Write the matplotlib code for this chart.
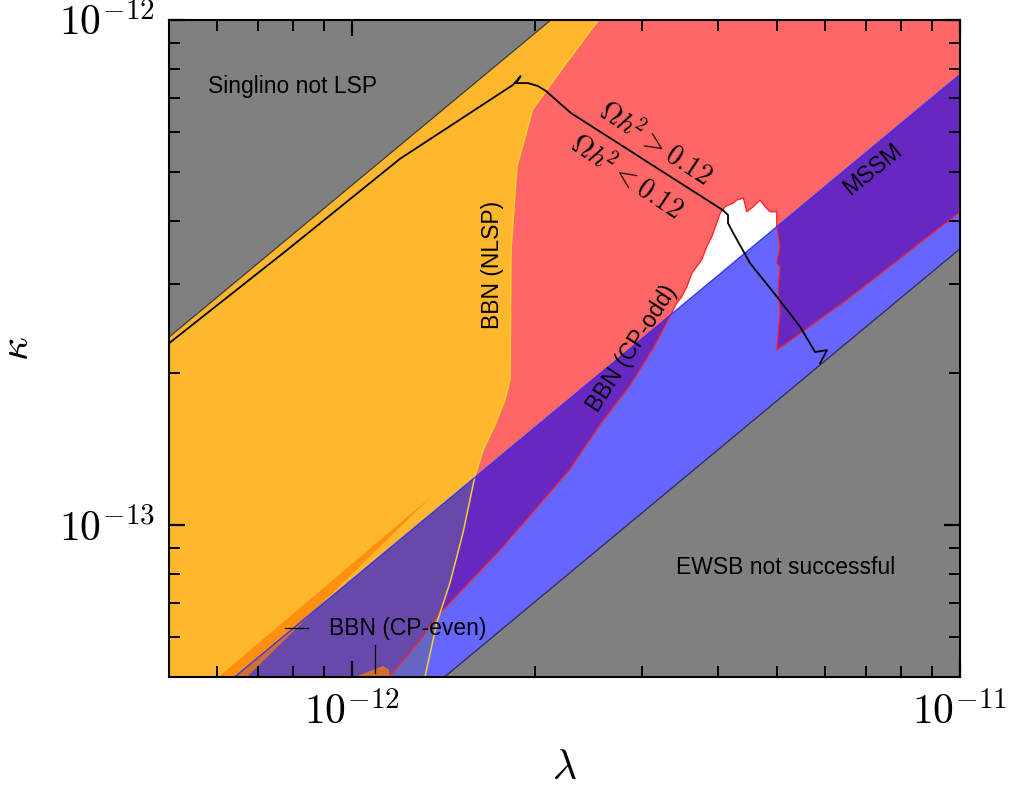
import numpy as np
import matplotlib
matplotlib.use("Agg")
import matplotlib.pyplot as plt
from matplotlib.ticker import FuncFormatter, LogLocator, NullFormatter

plt.rcParams["mathtext.fontset"] = "cm"
plt.rcParams["font.family"] = ["Liberation Sans", "DejaVu Sans"]

# ---- plot range ----------------------------------------------------------
lam_lim = [5.0e-13, 1.0e-11]
kap_lim = [5.0e-14, 1.0e-12]

# ---- "Singlino not LSP" boundary (excluded above) -------------------------
lsp_lam = [5.0e-13, 2.123e-12]
lsp_kap = [2.355e-13, 1.0e-12]

# ---- EWSB boundary (excluded below) ---------------------------------------
ewsb_lam = [1.419e-12, 1.0e-11]
ewsb_kap = [5.0e-14, 3.524e-13]

# ---- MSSM-like band, upper edge ------------------------------------------
mssm_lam = [6.41e-13, 1.0e-11]
mssm_kap = [5.0e-14, 7.80e-13]

# ---- BBN (NLSP) boundary, region to the left is excluded ------------------
nlsp_lam = [2.544e-12, 2.228e-12, 1.980e-12, 1.867e-12, 1.826e-12, 1.819e-12,
            1.785e-12, 1.719e-12, 1.644e-12, 1.593e-12, 1.522e-12, 1.449e-12,
            1.378e-12, 1.318e-12]
nlsp_kap = [1.0e-12, 8.08e-13, 6.64e-13, 5.12e-13, 3.50e-13, 1.94e-13,
            1.77e-13, 1.58e-13, 1.41e-13, 1.25e-13, 9.64e-14, 7.68e-14,
            6.39e-14, 5.0e-14]

# ---- BBN (CP-odd) boundary, region above/left is excluded ------------------
odd_lam = [1.150e-12, 1.294e-12, 1.378e-12, 1.752e-12, 2.038e-12, 2.283e-12,
           2.558e-12, 2.866e-12, 3.150e-12, 3.420e-12, 3.486e-12, 3.553e-12,
           3.621e-12, 3.690e-12, 3.760e-12, 3.832e-12, 3.905e-12, 3.980e-12,
           4.030e-12, 4.107e-12, 4.238e-12, 4.293e-12, 4.402e-12, 4.459e-12,
           4.571e-12, 4.689e-12, 4.779e-12, 4.870e-12, 4.995e-12, 4.995e-12,
           5.057e-12, 4.995e-12, 5.057e-12, 5.020e-12, 5.057e-12, 4.995e-12,
           6.512e-12, 1.0e-11]
odd_kap = [5.0e-14, 5.92e-14, 6.58e-14, 8.92e-14, 1.10e-13, 1.29e-13,
           1.58e-13, 1.89e-13, 2.27e-13, 2.75e-13, 2.83e-13, 2.96e-13,
           3.15e-13, 3.25e-13, 3.35e-13, 3.56e-13, 3.72e-13, 3.96e-13,
           4.14e-13, 4.27e-13, 4.34e-13, 4.40e-13, 4.44e-13, 4.17e-13,
           4.27e-13, 4.40e-13, 4.27e-13, 4.17e-13, 4.17e-13, 3.90e-13,
           3.56e-13, 3.30e-13, 3.25e-13, 2.92e-13, 2.63e-13, 2.22e-13,
           2.79e-13, 4.17e-13]

# ---- BBN (CP-even) excluded patches ----------------------------------------
even_lam = [6.03e-13, 1.352e-12, 6.71e-13]
even_kap = [5.0e-14, 1.14e-13, 5.0e-14]
even2_lam = [1.011e-12, 1.125e-12, 1.150e-12, 1.155e-12]
even2_kap = [5.0e-14, 5.26e-14, 5.17e-14, 5.0e-14]

# ---- relic density contour Omega h^2 = 0.12 -------------------------------
relic_lam = [5.0e-13, 7.81e-13, 1.199e-12, 1.840e-12, 1.893e-12, 1.861e-12,
             1.947e-12, 2.022e-12, 2.085e-12, 2.292e-12, 4.075e-12, 4.153e-12,
             4.153e-12, 4.233e-12, 4.514e-12, 5.0e-12, 5.456e-12, 5.775e-12,
             6.043e-12, 5.886e-12]
relic_kap = [2.29e-13, 3.50e-13, 5.31e-13, 7.44e-13, 7.74e-13, 7.50e-13,
             7.50e-13, 7.40e-13, 7.23e-13, 6.54e-13, 4.20e-13, 4.11e-13,
             3.96e-13, 3.79e-13, 3.30e-13, 2.83e-13, 2.47e-13, 2.20e-13,
             2.22e-13, 2.09e-13]

# ---- annotation pointers for BBN (CP-even) --------------------------------
even_tick_lam = [7.76e-13, 8.47e-13]
even_tick_kap = [6.24e-14, 6.24e-14]
even_stem_lam = [1.091e-12, 1.091e-12]
even_stem_kap = [5.79e-14, 5.09e-14]

# ---- figure -------------------------------------------------------------
fig = plt.figure(figsize=(10.11, 7.87), dpi=100)
ax = fig.add_axes([0.1672, 0.1398, 0.7824, 0.8348])
ax.set_xscale("log")
ax.set_yscale("log")
ax.set_xlim(lam_lim)
ax.set_ylim(kap_lim)

lo_l, hi_l = lam_lim
lo_k, hi_k = kap_lim

# excluded by BBN (CP-odd) / relic region (red)
ax.fill(list(odd_lam) + [hi_l, lo_l, lo_l],
        list(odd_kap) + [hi_k, hi_k, lo_k],
        color="#ff0000", alpha=0.6, lw=0, zorder=1)

# BBN (NLSP)
ax.fill(list(nlsp_lam) + [lo_l, lo_l],
        list(nlsp_kap) + [lo_k, hi_k],
        color="#ffff00", alpha=0.54, lw=0, zorder=2)

# MSSM-like band
ax.fill(list(mssm_lam) + [hi_l], list(mssm_kap) + [lo_k],
        color="#0000ff", alpha=0.6, lw=0, zorder=3)

# BBN (CP-even)
ax.fill(even_lam, even_kap, color="#ff8000", alpha=0.7, lw=0, zorder=4)
ax.fill(even2_lam, even2_kap, color="#ff8000", alpha=0.7, lw=0, zorder=4)

# boundary lines
ax.plot(odd_lam, odd_kap, color="#ff2020", lw=0.9, zorder=5)
ax.plot(nlsp_lam, nlsp_kap, color="#f2cf2a", lw=1.1, zorder=5)
ax.plot(mssm_lam, mssm_kap, color="#3030ff", lw=0.9, zorder=5)

# theoretically excluded regions (grey)
ax.fill(list(lsp_lam) + [lo_l], list(lsp_kap) + [hi_k],
        color="#808080", lw=0, zorder=6)
ax.plot(lsp_lam, lsp_kap, color="#3a3a3a", lw=0.9, zorder=6)
ax.fill(list(ewsb_lam) + [hi_l], list(ewsb_kap) + [lo_k],
        color="#808080", lw=0, zorder=6)
ax.plot(ewsb_lam, ewsb_kap, color="#2c2c5c", lw=0.9, zorder=6)

# relic density contour
ax.plot(relic_lam, relic_kap, color="black", lw=1.3, zorder=7)

# CP-even pointers
ax.plot(even_tick_lam, even_tick_kap, color="black", lw=0.9, zorder=7)
ax.plot(even_stem_lam, even_stem_kap, color="black", lw=0.9, zorder=7)

# ---- labels -------------------------------------------------------------
fs = 16.5
ax.text(5.80e-13, 7.37e-13, "Singlino not LSP", fontsize=fs,
        ha="left", va="center", zorder=8)
ax.text(5.173e-12, 8.22e-14, "EWSB not successful", fontsize=fs,
        ha="center", va="center", zorder=8)
ax.text(1.699e-12, 3.27e-13, "BBN (NLSP)", fontsize=fs, rotation=90,
        ha="center", va="center", zorder=8)
ax.text(7.193e-12, 5.05e-13, "MSSM", fontsize=fs, rotation=39,
        ha="center", va="center", zorder=8)
ax.text(2.888e-12, 2.24e-13, "BBN (CP-odd)", fontsize=fs, rotation=57,
        ha="center", va="center", zorder=8)
ax.text(9.17e-13, 6.24e-14, "BBN (CP-even)", fontsize=fs,
        ha="left", va="center", zorder=8)
ax.text(3.150e-12, 5.68e-13, r"$\Omega h^{\!2} > 0.12$", fontsize=20,
        rotation=-33.5, ha="center", va="center", zorder=8)
ax.text(2.834e-12, 4.89e-13, r"$\Omega h^{\!2} < 0.12$", fontsize=20,
        rotation=-34, ha="center", va="center", zorder=8)

# ---- axes styling --------------------------------------------------------
ax.xaxis.set_major_locator(LogLocator(base=10))
ax.yaxis.set_major_locator(LogLocator(base=10))
ax.xaxis.set_minor_locator(LogLocator(base=10, subs=np.arange(2, 10)))
ax.yaxis.set_minor_locator(LogLocator(base=10, subs=np.arange(2, 10)))
fmt = FuncFormatter(lambda v, p: r"$10^{%d}$" % int(round(np.log10(v))))
ax.xaxis.set_major_formatter(fmt)
ax.yaxis.set_major_formatter(fmt)
ax.xaxis.set_minor_formatter(NullFormatter())
ax.yaxis.set_minor_formatter(NullFormatter())

ax.tick_params(which="both", direction="in", top=True, right=True,
               color="black")
ax.tick_params(which="major", length=11.5, width=1.6, labelsize=30)
ax.tick_params(axis="x", which="major", pad=12)
ax.tick_params(axis="y", which="major", pad=10)
ax.tick_params(which="minor", length=8, width=1.4)
ax.xaxis.set_zorder(11)
ax.yaxis.set_zorder(11)
for s in ax.spines.values():
    s.set_linewidth(1.5)
    s.set_zorder(12)

ax.set_xlabel(r"$\lambda$", fontsize=30, labelpad=10)
ax.set_ylabel(r"$\kappa$", fontsize=30, labelpad=16)

fig.savefig("out.png", dpi=100)
